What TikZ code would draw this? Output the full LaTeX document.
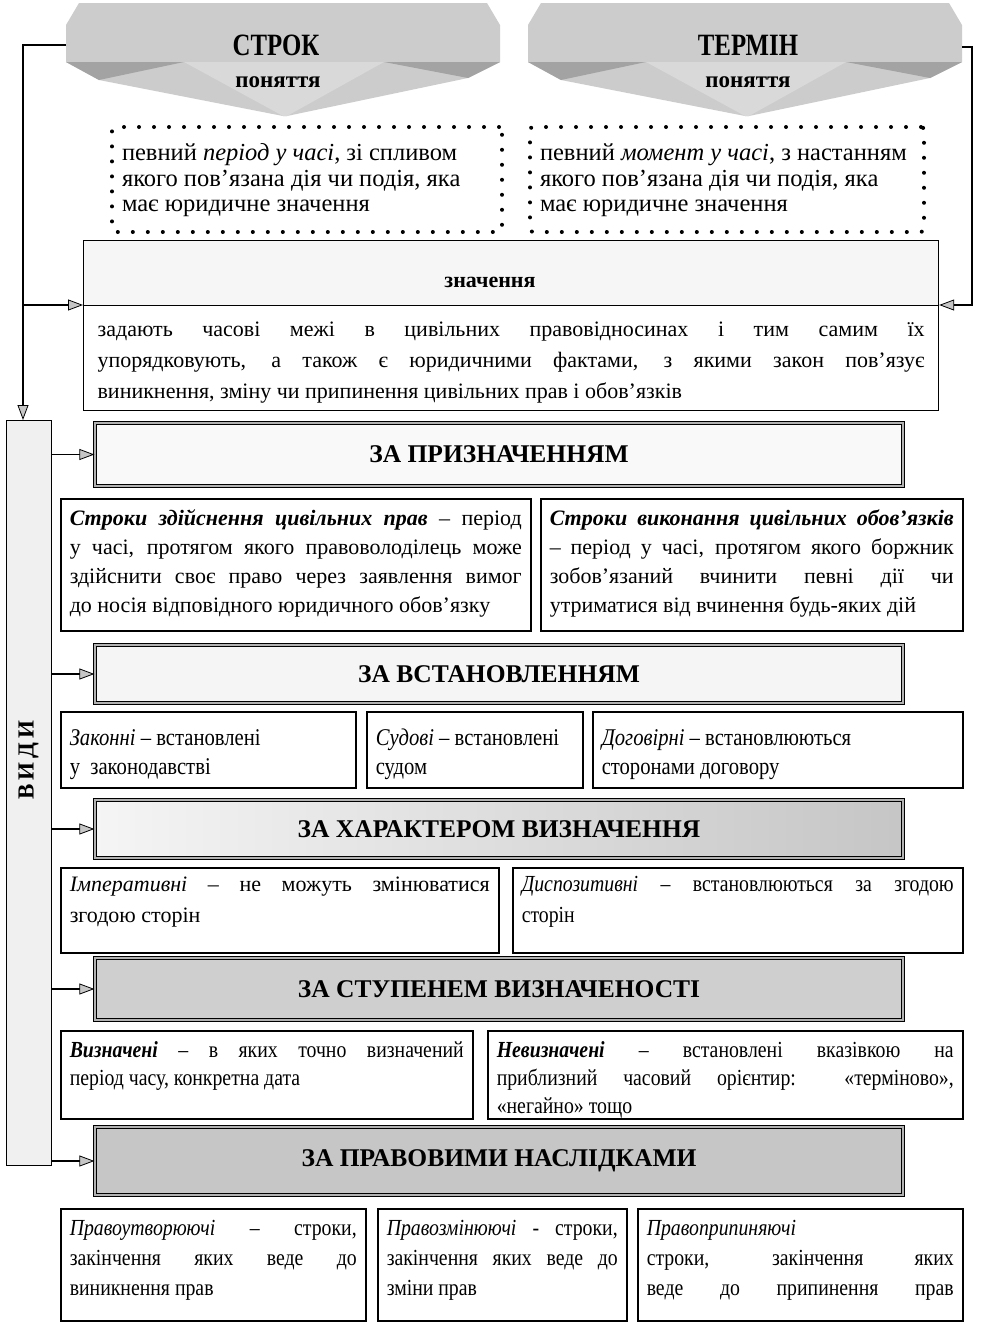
\documentclass[tikz,border=0pt]{standalone}
\usepackage{fontspec}
\setmainfont{Liberation Serif}
\newfontfamily\cond{Liberation Serif}[FakeStretch=0.86]
\usetikzlibrary{arrows.meta,calc}
\newcommand{\J}[1]{\makebox[\linewidth][s]{#1}\\}
\newcommand{\tb}[4]{\parbox[c][#2pt][t]{#1pt}{\vspace*{#3pt}\strut #4}}
\newcommand{\fs}[2]{\fontsize{#1}{#2}\selectfont}
\newcommand{\bi}[1]{\textbf{\textit{#1}}}
\newcommand{\drawbanner}[1]{%
\begin{scope}[shift={(#1,0)}]
\fill[gray!40] (0,25) -- (13,3) -- (421,3) -- (434,25) -- (434,62) -- (402,78) -- (221,116) -- (217,116) -- (33,80) -- (0,62) -- cycle;
\fill[gray!72] (0,62) -- (118,62) -- (33,80) -- cycle;
\fill[gray!72] (318,62) -- (434,62) -- (402,78) -- cycle;
\fill[gray!30] (118,62) -- (318,62) -- (221,116) -- (217,116) -- cycle;
\end{scope}}
\begin{document}
\begin{tikzpicture}[x=1pt,y=-1pt,
  arr/.style={line width=1.8pt,-{Triangle[length=15pt,width=11pt,fill=gray!45,line width=0.8pt]}},
  hdr/.style={draw, line width=1.3pt, double=gray!60, double distance=2.2pt, minimum width=808, inner sep=0pt, font=\bfseries\fs{25.5}{25.5}},
  sub/.style={draw, line width=1.5pt, fill=white, inner xsep=9pt, inner ysep=0pt, anchor=north west},
  dotbox/.style={draw, line width=4pt, dash pattern=on 0pt off 15pt, line cap=round, rounded corners=3pt, inner xsep=10pt, inner ysep=0pt, anchor=north west, font=\fs{24.5}{25.5}},
  zbox/.style={draw, line width=1.2pt, inner sep=0pt, anchor=north west},
  ttl/.style={inner sep=0pt, font=\bfseries\fs{31}{31}},
  ttls/.style={inner sep=0pt, font=\bfseries\fs{23}{23}}]
\useasboundingbox (0,0) rectangle (980,1333);
\fill[white] (0,0) rectangle (980,1333);

% banners
\drawbanner{66}
\drawbanner{528}
\node[ttl] (strok) at (276,45) {\scalebox{0.8}[1]{СТРОК}};
\node[ttls] (strokp) at (278,82) {поняття};
\node[ttl] (termin) at (748,45) {\scalebox{0.8}[1]{ТЕРМІН}};
\node[ttls] (terminp) at (748,82) {поняття};
\coordinate (sL) at (66,45);
\coordinate (tR) at (962,47);
\coordinate (lc) at (23,45);
\coordinate (rc) at (972,47);

% dotted definitions
\node[dotbox] (d1) at (110,125) {\tb{370}{105}{16}{певний \textit{період у часі}, зі спливом\\якого пов'язана дія чи подія, яка\\має юридичне значення}};
\node[dotbox] (d2) at (528,125) {\tb{374}{105}{16}{певний \textit{момент у часі}, з настанням\\якого пов'язана дія чи подія, яка\\має юридичне значення}};

% значення
\node[zbox, fill=gray!7, minimum width=855, minimum height=65] (znh) at (83,240) {};
\node[inner sep=0pt, font=\bfseries\fs{22}{22}] (znt) at (490,282) {значення};
\node[zbox, fill=white, inner xsep=14pt] (znb) at (83,305) {\fs{22}{31}\tb{827}{105}{9}{\J{задають часові межі в цивільних правовідносинах і тим самим їх}\J{упорядковують, а також є юридичними фактами, з якими закон пов'язує}виникнення, зміну чи припинення цивільних прав і обов'язків}};

% ВИДИ
\node[draw, line width=1.2pt, fill=gray!12, minimum width=45, minimum height=745, inner sep=0pt, anchor=north west] (vidy) at (6,420) {};
\node[rotate=90, inner sep=0pt, font=\bfseries\fs{23}{23}] (vidyt) at (28.5,760) {В\,И\,Д\,И};

\draw[arr] (sL) -- (lc) -- (lc |- vidy.north);
\draw[arr] (lc |- znb.north west) -- (znb.north west);
\draw[arr] (tR) -- (rc) -- (rc |- znb.north east) -- (znb.north east);

% headers
\node[hdr, fill=gray!5, minimum height=63] (h1) at (499,454.5) {ЗА ПРИЗНАЧЕННЯМ};
\node[hdr, fill=gray!8, minimum height=58] (h2) at (499,674) {ЗА ВСТАНОВЛЕННЯМ};
\node[hdr, left color=gray!8, right color=gray!45, minimum height=58] (h3) at (499,829) {ЗА ХАРАКТЕРОМ ВИЗНАЧЕННЯ};
\node[hdr, fill=gray!38, minimum height=62] (h4) at (499,989) {ЗА СТУПЕНЕМ ВИЗНАЧЕНОСТІ};
\node[hdr, fill=gray!45, minimum height=68] (h5) at (499,1161) {ЗА ПРАВОВИМИ НАСЛІДКАМИ};

\foreach \h in {h1,h2,h3,h4,h5}{\draw[arr] (\h.west -| vidy.east) -- (\h.west);}

% row 1
\node[sub, font=\fs{22}{29}] (b11) at (60,498) {\tb{452}{132}{6}{\J{\bi{Строки здійснення цивільних прав} – період}\J{у часі, протягом якого правоволоділець може}\J{здійснити своє право через заявлення вимог}до носія відповідного юридичного обов'язку}};
\node[sub, font=\fs{22}{29}] (b12) at (540,498) {\tb{404}{132}{6}{\J{\bi{Строки виконання цивільних обов'язків}}\J{– період у часі, протягом якого боржник}\J{зобов'язаний вчинити певні дії чи}утриматися від вчинення будь-яких дій}};
% row 2
\node[sub, font=\cond\fs{24}{29}] (b21) at (60,711) {\tb{277}{76}{13}{\textit{Законні} – встановлені\\у\ \ законодавстві}};
\node[sub, font=\cond\fs{24}{29}] (b22) at (366,711) {\tb{198}{76}{13}{\textit{Судові} – встановлені\\судом}};
\node[sub, font=\cond\fs{24}{29}] (b23) at (592,711) {\tb{352}{76}{13}{\textit{Договірні} – встановлюються\\сторонами договору}};
% row 3
\node[sub, font=\fs{22}{31}] (b31) at (60,867) {\tb{420}{85}{2}{\J{\textit{Імперативні} – не можуть змінюватися}згодою сторін}};
\node[sub, font=\cond\fs{23}{31}] (b32) at (512,867) {\tb{432}{85}{2}{\J{\textit{Диспозитивні} – встановлюються за згодою}сторін}};
% row 4
\node[sub, font=\cond\fs{23}{28}] (b41) at (60,1030) {\tb{394}{88}{7}{\J{\bi{Визначені} – в яких точно визначений}період часу, конкретна дата}};
\node[sub, font=\cond\fs{23}{28}] (b42) at (487,1030) {\tb{457}{88}{7}{\J{\bi{Невизначені} – встановлені вказівкою на}\J{приблизний часовий орієнтир: «терміново»,}«негайно» тощо}};
% row 5
\node[sub, font=\cond\fs{23}{30}] (b51) at (60,1208) {\tb{287}{112}{6}{\J{\textit{Правоутворюючі} – строки,}\J{закінчення яких веде до}виникнення прав}};
\node[sub, font=\cond\fs{23}{30}] (b52) at (377,1208) {\tb{231}{112}{6}{\J{\textit{Правозмінюючі} - строки,}\J{закінчення яких веде до}зміни прав}};
\node[sub, font=\cond\fs{23}{30}] (b53) at (637,1208) {\tb{307}{112}{6}{\textit{Правоприпиняючі}\\\J{строки, закінчення яких}\makebox[\linewidth][s]{веде до припинення прав}}};

% ticks
\foreach \b/\h/\f in {b11/h1/0.41, b12/h1/0.33, b21/h2/0.46, b22/h2/0.45, b23/h2/0.45, b31/h3/0.445, b32/h3/0.52, b41/h4/0.47, b42/h4/0.54, b51/h5/0.44, b52/h5/0.51, b53/h5/0.5}{
  \draw[line width=1.4pt] ($(\b.north west)!\f!(\b.north east)$) -- ($(\b.north west)!\f!(\b.north east)$ |- \h.south);}
\end{tikzpicture}
\end{document}
